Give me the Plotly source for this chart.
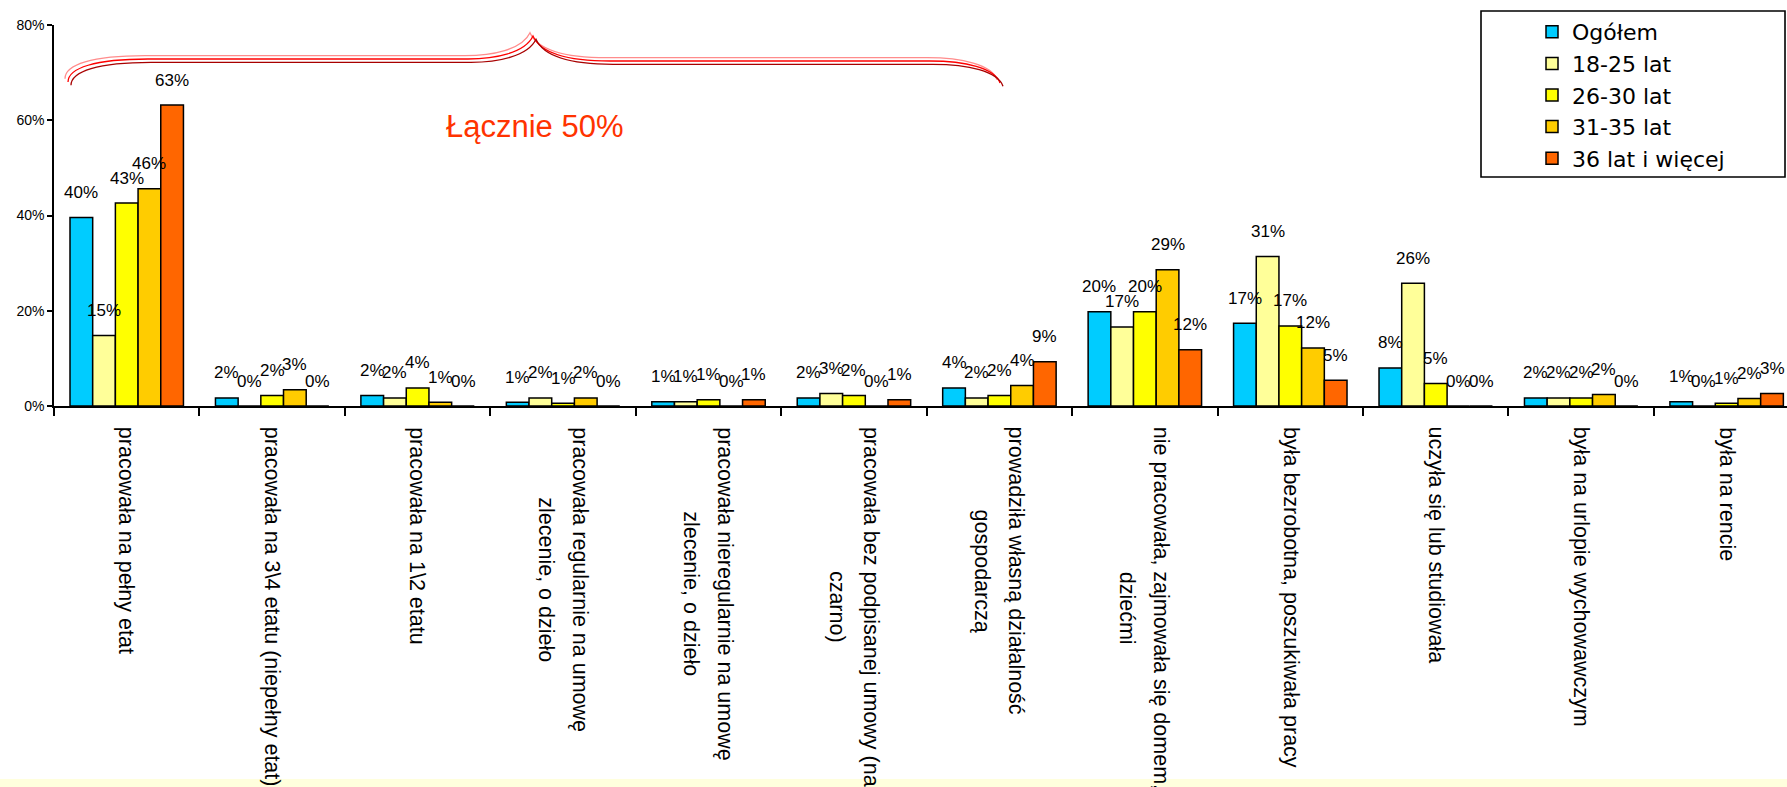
import plotly.graph_objects as go

# ---- data -------------------------------------------------------------
categories = [
    "pracowała na pełny etat",
    "pracowała na 3\\4 etatu (niepełny etat)",
    "pracowała na 1\\2 etatu",
    "pracowała regularnie na umowę\nzlecenie, o dzieło",
    "pracowała nieregularnie na umowę\nzlecenie, o dzieło",
    "pracowała bez podpisanej umowy (na\nczarno)",
    "prowadziła własną działalność\ngospodarczą",
    "nie pracowała, zajmowała się domem,\ndziećmi",
    "była bezrobotna, poszukiwała pracy",
    "uczyła się lub studiowała",
    "była na urlopie wychowawczym",
    "była na rencie",
]

series_names = ["Ogółem", "18-25 lat", "26-30 lat", "31-35 lat", "36 lat i więcej"]

ogolem = [39.6, 1.7, 2.2, 0.8, 0.9, 1.7, 3.8, 19.8, 17.4, 8.0, 1.7, 0.9]
lat_18_25 = [14.8, 0.0, 1.7, 1.7, 0.9, 2.6, 1.7, 16.6, 31.4, 25.8, 1.7, 0.0]
lat_26_30 = [42.6, 2.2, 3.8, 0.6, 1.3, 2.2, 2.2, 19.8, 16.8, 4.7, 1.7, 0.6]
lat_31_35 = [45.6, 3.4, 0.8, 1.7, 0.0, 0.0, 4.3, 28.6, 12.2, 0.0, 2.4, 1.6]
lat_36_plus = [63.2, 0.0, 0.0, 0.0, 1.3, 1.3, 9.3, 11.8, 5.4, 0.0, 0.0, 2.6]

series_values = [ogolem, lat_18_25, lat_26_30, lat_31_35, lat_36_plus]
series_colors = ["#00CCFF", "#FFFF99", "#FFFF00", "#FFCC00", "#FF6600"]

y_ticks = [0, 20, 40, 60, 80]
y_tick_text = [f"{v}%" for v in y_ticks]
group_note = "Łącznie 50%"

# ---- geometry -----------------------------------------------------------
W, H = 1787, 787
ML, MR, MT, MB = 54, 0, 25, 381
PW, PH = W - ML - MR, H - MT - MB
X_RANGE = [-0.5, 11.415]
BARGAP = 0.22


def paper_x(px):
    return (px - ML) / PW


def paper_y(py):
    return (H - MB - py) / PH


# approximate Arial / Liberation Sans advance widths (per 1000 em)
_NARROW = {" ": 278, ",": 278, "(": 333, ")": 333, "\\": 278, "%": 889,
           "f": 278, "i": 222, "j": 222, "l": 222, "ł": 222, "t": 278,
           "r": 333, "c": 500, "ć": 500, "k": 500, "s": 500, "ś": 500,
           "v": 500, "x": 500, "y": 500, "z": 500, "ż": 500, "ź": 500,
           "m": 833, "w": 722}


def text_len(s, size):
    return sum(_NARROW.get(ch, 556) for ch in s) / 1000.0 * size


x_idx = list(range(len(categories)))

fig = go.Figure()
for name, vals, col in zip(series_names, series_values, series_colors):
    fig.add_trace(go.Bar(
        x=x_idx, y=vals, name=name,
        marker=dict(color=col, line=dict(color="black", width=1.5)),
        hoverinfo="skip",
    ))

annotations = []

# value labels above every bar
n_series = len(series_values)
slot = (1 - BARGAP) / n_series
for i, vals in enumerate(series_values):
    off = -(1 - BARGAP) / 2 + slot * (i + 0.5)
    for j, v in enumerate(vals):
        annotations.append(dict(
            x=j + off, y=v, xref="x", yref="y",
            text=f"{v:.0f}%", showarrow=False,
            xanchor="center", yanchor="middle", yshift=25,
            font=dict(family="Liberation Sans, Arial", size=17, color="black"),
        ))

# vertical category labels (one annotation per line, lines centred)
LBL_SIZE = 21.5
LBL_TOP = 427
LINE_STEP = 34
for j, cat in enumerate(categories):
    lines = cat.split("\n")
    longest = max(text_len(s, LBL_SIZE) for s in lines)
    yc = paper_y(LBL_TOP + longest / 2)
    n = len(lines)
    for k, line in enumerate(lines):
        shift = ((n - 1) / 2 - k) * LINE_STEP
        annotations.append(dict(
            x=j, y=yc, xref="x", yref="paper",
            text=line, showarrow=False, textangle=90,
            xanchor="center", yanchor="middle", xshift=shift,
            font=dict(family="Liberation Sans, Arial", size=LBL_SIZE, color="black"),
        ))

# note under the brace
annotations.append(dict(
    x=paper_x(535), y=paper_y(127), xref="paper", yref="paper",
    text=group_note, showarrow=False, xanchor="center", yanchor="middle",
    font=dict(family="Liberation Sans, Arial", size=31, color="#FF3300"),
))

# ---- decorative shapes -------------------------------------------------
def brace_path(dx, dy):
    pts = [
        ("M", [(68, 82)]),
        ("C", [(68, 68), (95, 59), (148, 59)]),
        ("L", [(468, 59)]),
        ("C", [(495, 59), (525, 53), (533, 36)]),
        ("C", [(540, 52), (565, 61), (610, 61)]),
        ("L", [(930, 61)]),
        ("C", [(965, 61), (995, 68), (1000, 83)]),
    ]
    parts = []
    for cmd, coords in pts:
        c = " ".join(f"{paper_x(px + dx):.5f},{paper_y(py + dy):.5f}" for px, py in coords)
        parts.append(f"{cmd} {c}")
    return " ".join(parts)


shapes = []
for (dx, dy), col in zip([(-3, -3.3), (0, 0), (3, 3.3)],
                         ["#FF8C8C", "#FF0000", "#A80000"]):
    shapes.append(dict(type="path", xref="paper", yref="paper",
                       path=brace_path(dx, dy),
                       line=dict(color=col, width=1.3)))

# legend frame
lx0, lx1, ly0, ly1 = paper_x(1481), paper_x(1785), paper_y(177), paper_y(11)
shapes.append(dict(type="path", xref="paper", yref="paper",
                   path=(f"M {lx0:.5f},{ly0:.5f} L {lx1:.5f},{ly0:.5f} "
                         f"L {lx1:.5f},{ly1:.5f} L {lx0:.5f},{ly1:.5f} Z"),
                   line=dict(color="black", width=1.6),
                   fillcolor="white", layer="below"))

# pale band along the bottom edge
shapes.append(dict(type="rect", xref="paper", yref="paper",
                   x0=paper_x(-5), x1=paper_x(W + 5),
                   y0=paper_y(H + 5), y1=paper_y(779),
                   line=dict(width=0), fillcolor="#FFFFDD", layer="below"))

fig.update_layout(
    width=W, height=H, autosize=False,
    margin=dict(l=ML, r=MR, t=MT, b=MB, pad=0),
    paper_bgcolor="white", plot_bgcolor="white",
    barmode="group", bargap=BARGAP, bargroupgap=0,
    showlegend=True,
    legend=dict(
        x=paper_x(1532), y=paper_y(11), xanchor="left", yanchor="top",
        bgcolor="rgba(0,0,0,0)", borderwidth=0, tracegroupgap=0,
        font=dict(family="DejaVu Sans", size=22, color="black"),
    ),
    xaxis=dict(
        range=X_RANGE, showgrid=False, zeroline=False,
        showline=True, linecolor="black", linewidth=1.5,
        tickmode="array", tickvals=[k - 0.5 for k in range(len(categories) + 1)],
        ticks="outside", ticklen=8, tickwidth=1.5, tickcolor="black",
        showticklabels=False, fixedrange=True,
    ),
    yaxis=dict(
        range=[0, 80], showgrid=False, zeroline=False,
        showline=True, linecolor="black", linewidth=1.5,
        tickmode="array", tickvals=y_ticks, ticktext=y_tick_text,
        ticks="outside", ticklen=5, tickwidth=1.5, tickcolor="black",
        tickfont=dict(family="Liberation Sans, Arial", size=14, color="black"),
        fixedrange=True,
    ),
    annotations=annotations,
    shapes=shapes,
)

fig.write_html("out.html")
